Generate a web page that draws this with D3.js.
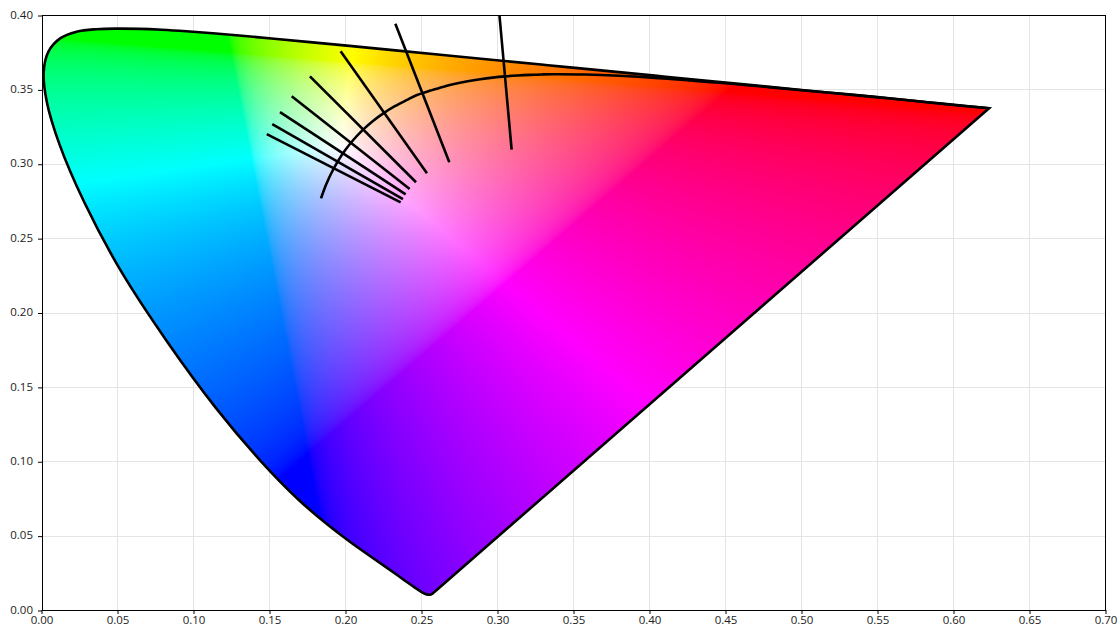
<!DOCTYPE html>
<html>
<head>
<meta charset="utf-8">
<script src="https://cdn.jsdelivr.net/npm/d3@7"></script>
<style>
  body { margin: 0; background: #fff; }
  svg { display: block; }
  .tick text { font-family: "Open Sans", "Noto Sans", sans-serif; font-size: 11.5px; fill: #222; }
</style>
</head>
<body>
<svg id="chart" width="1120" height="640"></svg>
<script>
// spectral locus, CIE 1931 xy, 380nm to 700nm
const locusX = [.1741,.1738,.1733,.1726,.1714,.1703,.1689,.1669,.1644,.1611,.1566,.1510,.1440,.1355,.1241,.1096,.0913,.0687,.0454,.0235,.0082,.0039,.0139,.0389,.0743,.1142,.1547,.1929,.2296,.2658,.3016,.3373,.3731,.4087,.4441,.4788,.5125,.5448,.5752,.6029,.6270,.6482,.6658,.6801,.6915,.7006,.7079,.7190,.7260,.7347];
const locusY = [.0050,.0049,.0048,.0048,.0051,.0058,.0069,.0086,.0109,.0138,.0177,.0227,.0297,.0399,.0578,.0868,.1327,.2007,.2950,.4127,.5384,.6548,.7502,.8120,.8338,.8262,.8059,.7816,.7543,.7243,.6923,.6589,.6245,.5896,.5547,.5202,.4866,.4544,.4242,.3965,.3725,.3514,.3340,.3197,.3083,.2993,.2920,.2809,.2740,.2653];

// where the purple line bends into the rounded bottom
const purpleStart = [.2600, .0138];

// planckian locus in uv
const planckU = [.18388,.18494,.18611,.18740,.18880,.19032,.19462,.19962,.20525,.21142,.21807,.22511,.23247,.24010,.24702,.25591,.26400,.27218,.28039,.28863,.29685,.30505,.31320,.32129,.32931,.33724,.3579,.4060,.4481,.5000,.5500,.6000,.6234];
const planckV = [.27709,.28021,.28342,.28668,.28997,.29326,.30141,.30921,.31647,.32312,.32909,.33439,.33904,.34308,.34655,.34951,.35200,.35407,.35577,.35714,.35823,.35907,.35968,.36011,.36038,.36051,.3603,.3579,.3546,.3498,.3452,.3398,.3377];

// isotherm end points in uv
const isoU1 = [.1482,.1518,.1569,.1646,.1766,.1968,.2328,.3013];
const isoV1 = [.3203,.3269,.3351,.3457,.3591,.3759,.3945,.4000];
const isoU2 = [.2363,.2378,.2396,.2422,.2464,.2536,.2683,.3093];
const isoV2 = [.2744,.2766,.2798,.2834,.2879,.2939,.3013,.3098];

const xTicks = d3.range(0, 15).map(i => i * 0.05);
const yTicks = d3.range(0, 9).map(i => i * 0.05);

const svg = d3.select('#chart');

const x = d3.scaleLinear().domain([0, 0.7]).range([41.5, 1105.5]);
const y = d3.scaleLinear().domain([0, 0.4]).range([610.5, 15.5]);

const xyToUv = (cx, cy) => {
  const d = 12 * cy - 2 * cx + 3;
  return [4 * cx / d, 6 * cy / d];
};

const locus = [purpleStart].concat(locusX.map((cx, i) => xyToUv(cx, locusY[i])));
const planck = planckU.map((u, i) => [u, planckV[i]]);

const line = d3.line().x(d => x(d[0])).y(d => y(d[1]));
const locusPath = line.curve(d3.curveCatmullRom.alpha(0.5))(locus) + 'Z';

// grid
svg.append('g').selectAll('line').data(xTicks.slice(1, -1)).enter().append('line')
  .attr('x1', d => Math.floor(x(d)) + 0.5).attr('x2', d => Math.floor(x(d)) + 0.5)
  .attr('y1', y(0.4)).attr('y2', y(0))
  .attr('stroke', '#e4e4e4');
svg.append('g').selectAll('line').data(yTicks.slice(1, -1)).enter().append('line')
  .attr('x1', 42.5).attr('x2', x(0.7))
  .attr('y1', d => Math.floor(y(d)) + 0.5).attr('y2', d => Math.floor(y(d)) + 0.5)
  .attr('stroke', '#e4e4e4');

// colour field
const gamma = c => c <= 0.0031308 ? 12.92 * c : 1.055 * Math.pow(c, 1 / 2.4) - 0.055;
const uvToRgb = (u, v) => {
  const X = 1.5 * u / v;
  const Z = (2 - 0.5 * u) / v - 5;
  let r = Math.max(0, 3.2406 * X - 1.5372 - 0.4986 * Z);
  let g = Math.max(0, -0.9689 * X + 1.8758 + 0.0415 * Z);
  let b = Math.max(0, 0.0557 * X - 0.2040 + 1.0570 * Z);
  const m = Math.max(r, g, b);
  return [gamma(r / m), gamma(g / m), gamma(b / m)].map(c => Math.round(c * 255));
};

const w = 1064, h = 595;
const canvas = document.createElement('canvas');
canvas.width = w;
canvas.height = h;
const ctx = canvas.getContext('2d');
const img = ctx.createImageData(w, h);
for (let j = 0; j < h; j++) {
  const v = y.invert(15.5 + j + 0.5);
  for (let i = 0; i < w; i++) {
    const u = x.invert(41.5 + i + 0.5);
    const c = v > 0.001 ? uvToRgb(u, v) : [0, 0, 0];
    const p = (j * w + i) * 4;
    img.data[p] = c[0];
    img.data[p + 1] = c[1];
    img.data[p + 2] = c[2];
    img.data[p + 3] = 255;
  }
}
ctx.putImageData(img, 0, 0);

const defs = svg.append('defs');
defs.append('clipPath').attr('id', 'locusClip').append('path').attr('d', locusPath);
defs.append('clipPath').attr('id', 'plotClip').append('rect')
  .attr('x', x(0)).attr('y', y(0.4)).attr('width', w).attr('height', h);

svg.append('image')
  .attr('x', x(0)).attr('y', y(0.4)).attr('width', w).attr('height', h)
  .attr('href', canvas.toDataURL())
  .attr('clip-path', 'url(#locusClip)');

const marks = svg.append('g').attr('clip-path', 'url(#plotClip)')
  .attr('fill', 'none').attr('stroke', '#000').attr('stroke-width', 2.6);

marks.append('path').attr('d', locusPath).attr('stroke-miterlimit', 10);
marks.append('path').attr('d', line.curve(d3.curveCatmullRom)(planck));
marks.selectAll('line').data(isoU1).enter().append('line')
  .attr('x1', d => x(d))
  .attr('y1', (d, i) => y(isoV1[i]))
  .attr('x2', (d, i) => x(isoU2[i]))
  .attr('y2', (d, i) => y(isoV2[i]));

// frame and axes
svg.append('rect')
  .attr('x', 42.5).attr('y', 15.5)
  .attr('width', 1063).attr('height', 595)
  .attr('fill', 'none').attr('stroke', '#000');

const xAxis = d3.axisBottom(x).tickValues(xTicks).tickFormat(d3.format('.2f')).tickSize(4).tickPadding(2);
const yAxis = d3.axisLeft(y).tickValues(yTicks).tickFormat(d3.format('.2f')).tickSize(4).tickPadding(5);

svg.append('g').attr('transform', 'translate(0,610)').call(xAxis)
  .call(g => g.select('.domain').remove());
svg.append('g').attr('transform', 'translate(42,-1)').call(yAxis)
  .call(g => g.select('.domain').remove())
  .call(g => g.selectAll('.tick line').attr('transform', 'translate(0,1)'));
</script>
</body>
</html>
